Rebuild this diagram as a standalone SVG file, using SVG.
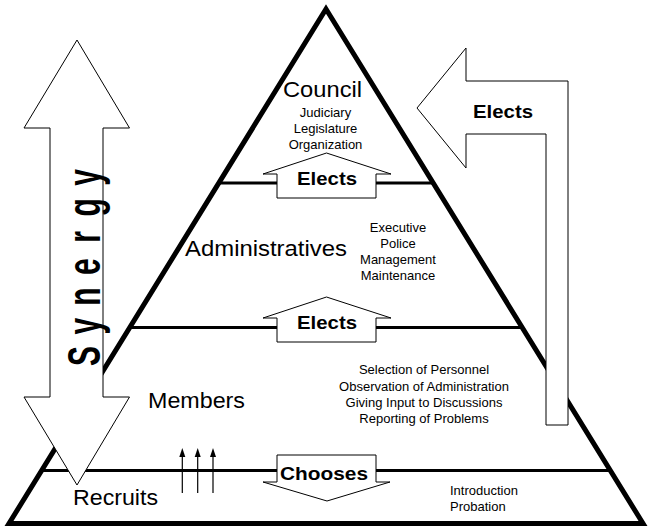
<svg xmlns="http://www.w3.org/2000/svg" width="653" height="527" viewBox="0 0 653 527">
<style>
  .edge { fill: none; stroke: #000; stroke-width: 5; stroke-linejoin: miter; }
  .level { stroke: #000; stroke-width: 3; fill: none; }
  .shape { fill: #fff; stroke: #000; stroke-width: 1; }
  .big { font-family: "Liberation Sans", Arial, sans-serif; font-size: 22px; fill: #000; }
  .small { font-family: "Liberation Sans", Arial, sans-serif; font-size: 13px; fill: #000; text-anchor: middle; }
  .lbl { font-family: "Liberation Sans", Arial, sans-serif; font-size: 18px; font-weight: bold; fill: #000; }
  .tiny { stroke: #000; stroke-width: 1.2; }
</style>
<rect width="653" height="527" fill="#fff"/>

<g id="pyramid">
  <polygon class="edge" points="326,9 643,523.5 9,523.5"/>
  <line class="level" x1="219" y1="183" x2="433" y2="183"/>
  <line class="level" x1="130" y1="327.5" x2="521" y2="327.5"/>
  <line class="level" x1="42" y1="470.5" x2="610" y2="470.5"/>
</g>

<g id="council">
  <text class="big" x="322.5" y="97" text-anchor="middle" textLength="79" lengthAdjust="spacingAndGlyphs">Council</text>
  <text class="small" x="325.5" y="117">Judiciary</text>
  <text class="small" x="325.5" y="133">Legislature</text>
  <text class="small" x="325.5" y="149">Organization</text>
</g>

<g id="administratives">
  <text class="big" x="185" y="256" textLength="162" lengthAdjust="spacingAndGlyphs">Administratives</text>
  <text class="small" x="398" y="232">Executive</text>
  <text class="small" x="398" y="248">Police</text>
  <text class="small" x="398" y="264">Management</text>
  <text class="small" x="398" y="280">Maintenance</text>
</g>

<g id="members">
  <text class="big" x="148" y="408" textLength="97" lengthAdjust="spacingAndGlyphs">Members</text>
  <text class="small" x="424" y="374">Selection of Personnel</text>
  <text class="small" x="424" y="390.5">Observation of Administration</text>
  <text class="small" x="424" y="406.5">Giving Input to Discussions</text>
  <text class="small" x="424" y="422.5">Reporting of Problems</text>
</g>

<g id="recruits">
  <text class="big" x="73" y="505" textLength="85" lengthAdjust="spacingAndGlyphs">Recruits</text>
  <text class="small" x="450" y="495" style="text-anchor:start">Introduction</text>
  <text class="small" x="450" y="511" style="text-anchor:start">Probation</text>
</g>

<g id="connectors">
  <g id="elects-admin-council">
    <polygon class="shape" points="277,198 277,174 263,174 326.5,153 391,174 376,174 376,198"/>
    <text class="lbl" x="327" y="185" text-anchor="middle" textLength="60" lengthAdjust="spacingAndGlyphs">Elects</text>
  </g>
  <g id="elects-members-admin">
    <polygon class="shape" points="277,342 277,318 263,318 326.5,297 391,318 376,318 376,342"/>
    <text class="lbl" x="327" y="329" text-anchor="middle" textLength="60" lengthAdjust="spacingAndGlyphs">Elects</text>
  </g>
  <g id="chooses-members-recruits">
    <polygon class="shape" points="277,455 376,455 376,482 390,482 327,501 263,482 277,482"/>
    <text class="lbl" x="324" y="480" text-anchor="middle" textLength="88" lengthAdjust="spacingAndGlyphs">Chooses</text>
  </g>
  <g id="synergy">
    <polygon class="shape" points="77,40 129.5,128 103,128 103,397 129.5,397 77,485 24,397 50,397 50,128 24,128"/>
    <text transform="translate(100,356) rotate(-90) scale(1,1.55)" x="0 29.75 59.5 89.25 119 148.75 178.5" y="0" text-anchor="middle" font-family="Liberation Sans, Arial, sans-serif" font-size="30" font-weight="bold">Synergy</text>
  </g>
  <g id="elects-members-council">
    <polygon class="shape" points="417,108 466,48 466,81 568,81 568,425 546,425 546,134 466,134 466,168"/>
    <text class="lbl" x="473" y="118" font-size="19" textLength="60" lengthAdjust="spacingAndGlyphs">Elects</text>
  </g>
  <g id="recruits-up">
    <line class="tiny" x1="182.3" y1="493" x2="182.3" y2="455"/>
    <line class="tiny" x1="197.7" y1="493" x2="197.7" y2="455"/>
    <line class="tiny" x1="213" y1="493" x2="213" y2="455"/>
    <polygon points="182.3,448 185.3,457 179.3,457" fill="#000"/>
    <polygon points="197.7,448 200.7,457 194.7,457" fill="#000"/>
    <polygon points="213,448 216,457 210,457" fill="#000"/>
  </g>
</g>
</svg>
